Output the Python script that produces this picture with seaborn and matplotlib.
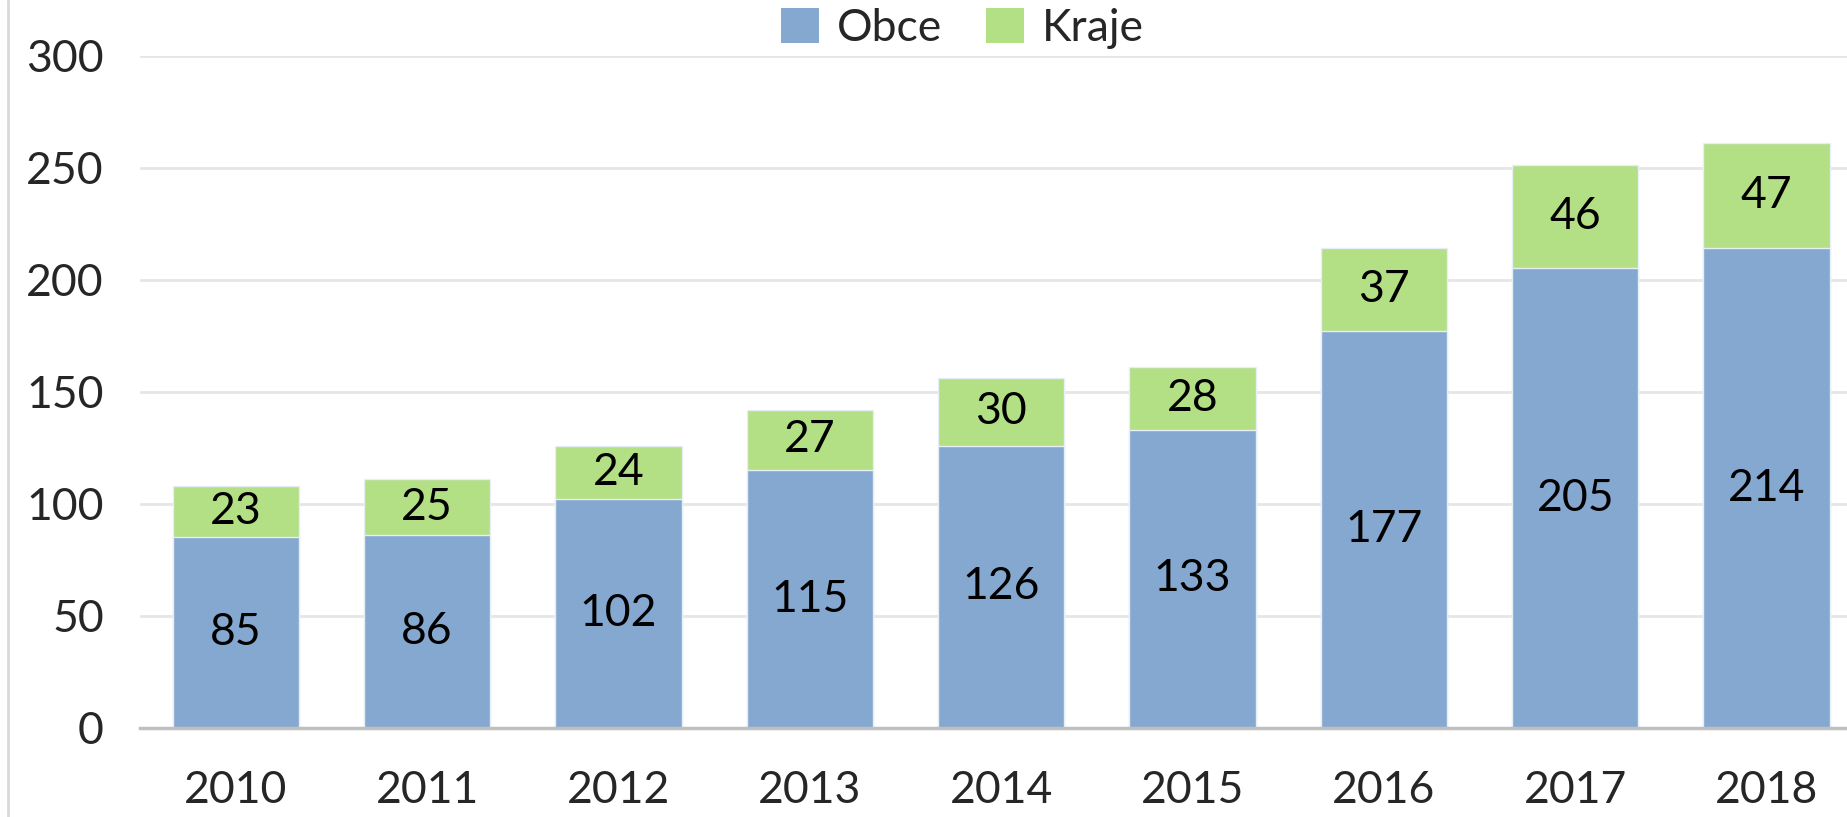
import matplotlib
matplotlib.use("Agg")
import matplotlib.pyplot as plt
import seaborn as sns
import numpy as np
import pandas as pd
from matplotlib.patches import Patch
from matplotlib.lines import Line2D

years = ["2010", "2011", "2012", "2013", "2014", "2015", "2016", "2017", "2018"]
obce = [85, 86, 102, 115, 126, 133, 177, 205, 214]
kraje = [23, 25, 24, 27, 30, 28, 37, 46, 47]
series_names = ["Obce", "Kraje"]
yticks = [0, 50, 100, 150, 200, 250, 300]

blue = "#85A8D0"
green = "#B3DF85"

sns.set_theme(style="white")
plt.rcParams["font.family"] = ["Lato", "DejaVu Sans"]

df = pd.DataFrame({"year": years, "Obce": obce, "Kraje": kraje})
df["total"] = df["Obce"] + df["Kraje"]

fig = plt.figure(figsize=(18.47, 8.17), dpi=100)
ax = fig.add_axes([0.0758, 0.109, 0.9242, 0.823])

sns.barplot(data=df, x="year", y="total", color=green, saturation=1, width=0.66,
            edgecolor="#E8EEF6", linewidth=1, ax=ax, zorder=2)
sns.barplot(data=df, x="year", y="Obce", color=blue, saturation=1, width=0.66,
            edgecolor="#E8EEF6", linewidth=1, ax=ax, zorder=3)

fs = 32
for i, (o, k) in enumerate(zip(obce, kraje)):
    ax.text(i, o / 2, str(o), ha="center", va="center", fontsize=fs, color="black", zorder=5)
    ax.text(i, o + k / 2, str(k), ha="center", va="center", fontsize=fs, color="black", zorder=5)

ax.set_ylim(0, 300)
ax.set_xlim(-0.5, 8.42)
ax.set_yticks(yticks)
ax.set_yticklabels([str(t) for t in yticks], fontsize=fs)
ax.tick_params(axis="x", labelsize=fs, pad=30, length=0)
ax.tick_params(axis="y", pad=26, length=0)
ax.set_xlabel("")
ax.set_ylabel("")
ax.yaxis.grid(True, color="#E6E6E6", linewidth=2)
ax.set_axisbelow(True)
for s in ["left", "right", "top"]:
    ax.spines[s].set_visible(False)
ax.spines["bottom"].set_color("#BFBFBF")
ax.spines["bottom"].set_linewidth(2.5)
ax.spines["bottom"].set_zorder(4)

handles = [Patch(facecolor=blue, edgecolor="none"), Patch(facecolor=green, edgecolor="none")]
fig.legend(handles, series_names, loc="center", bbox_to_anchor=(0.521, 0.965), ncol=2,
           frameon=False, fontsize=fs, handlelength=0.85, handleheight=0.85,
           handletextpad=0.4, columnspacing=1.0)

fig.add_artist(Line2D([0.0045, 0.0045], [0, 1], color="#D9D9D9", linewidth=2,
                      transform=fig.transFigure))

fig.savefig("out.png", dpi=100, facecolor="white")
